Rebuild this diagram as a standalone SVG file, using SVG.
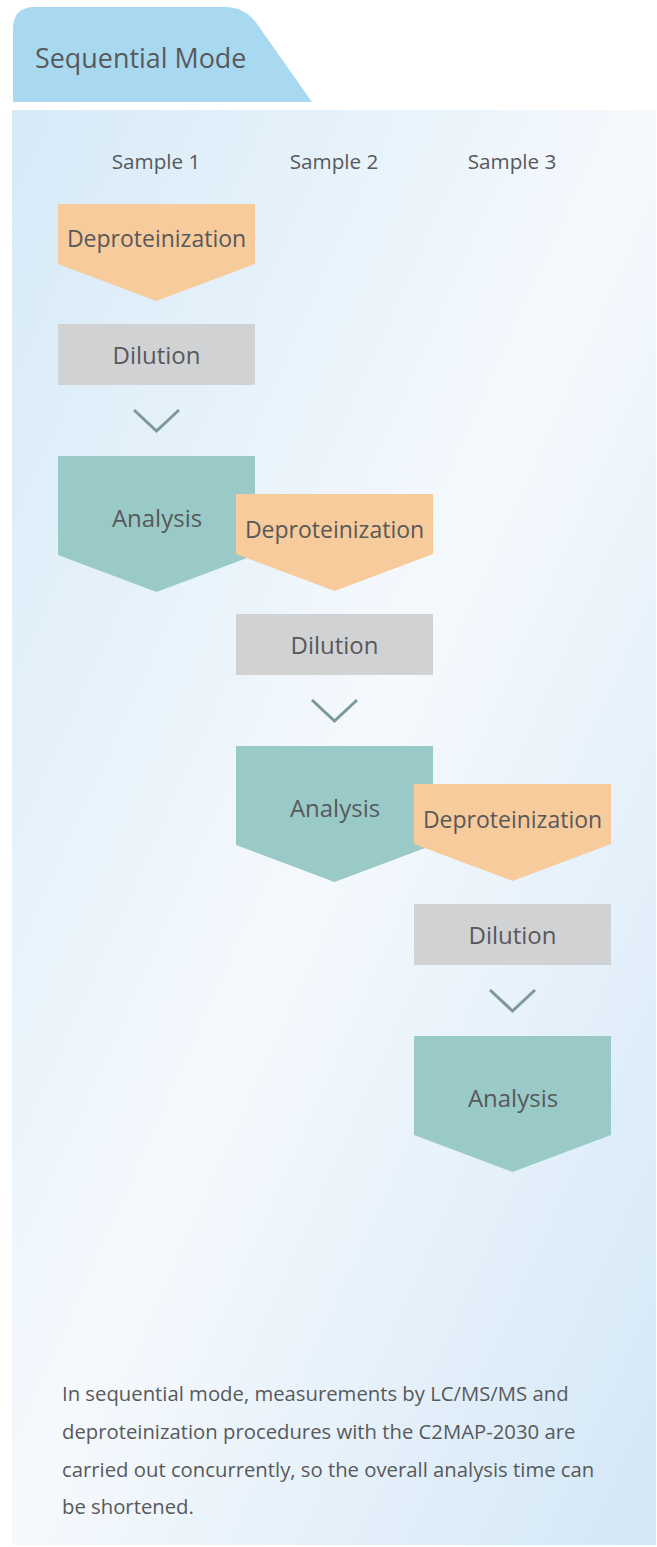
<svg xmlns="http://www.w3.org/2000/svg" width="657" height="1547" viewBox="0 0 657 1547">
  <style>
    .t { font-family: "Open Sans", "Liberation Sans", sans-serif; fill: #58595b; text-anchor: middle; }
    .box { font-size: 23px; }
    .box2 { font-size: 24px; }
    .sample { font-size: 20.7px; }
    .para { font-family: "Open Sans", "Liberation Sans", sans-serif; fill: #58595b; font-size: 20.3px; }
    .dep { fill: #f7cb9b; }
    .dil { fill: #d1d2d4; }
    .ana { fill: #99cac7; }
    .chev { fill: none; stroke: #7c979d; stroke-width: 3; }
  </style>
  <defs>
    <linearGradient id="bg" x1="0" y1="0" x2="1" y2="1">
      <stop offset="0" stop-color="#d6eaf8"/>
      <stop offset="0.5" stop-color="#f5f9fd"/>
      <stop offset="1" stop-color="#d3e7f7"/>
    </linearGradient>
  </defs>
  <rect width="657" height="1547" fill="#ffffff"/>
  <g id="tab">
    <path d="M13,102 V29 Q13,7 35,7 H225 Q245,7 256.5,23.3 L312,102 Z" fill="#a9d9f1"/>
    <text x="35" y="68" style="font-family:'Open Sans','Liberation Sans',sans-serif;font-size:26.9px;fill:#58595b">Sequential Mode</text>
  </g>
  <g id="panel">
    <rect x="12" y="110" width="644" height="1435" fill="url(#bg)"/>
  </g>
  <g id="samples">
    <text class="t sample" x="156" y="169">Sample 1</text>
    <text class="t sample" x="334" y="169">Sample 2</text>
    <text class="t sample" x="512" y="169">Sample 3</text>
  </g>
  <g id="connectors">
    <polyline class="chev" points="134,410 156.5,431 179,410"/>
    <polyline class="chev" points="312,700 334.5,721 357,700"/>
    <polyline class="chev" points="490,990 512.5,1011 535,990"/>
  </g>
  <!-- Sample 1 -->
  <g id="s1-deproteinization">
    <polygon class="dep" points="58,204 255,204 255,264 156.5,301 58,264"/>
    <text class="t box" x="156.5" y="247">Deproteinization</text>
  </g>
  <g id="s1-dilution">
    <rect class="dil" x="58" y="324" width="197" height="61"/>
    <text class="t box2" x="156.5" y="364">Dilution</text>
  </g>
  <g id="s1-analysis">
    <polygon class="ana" points="58,456 255,456 255,555 156.5,592 58,555"/>
    <text class="t box2" x="157" y="527">Analysis</text>
  </g>
  <!-- Sample 2 -->
  <g id="s2-deproteinization">
    <polygon class="dep" points="236,494 433,494 433,554 334.5,591 236,554"/>
    <text class="t box" x="334.5" y="538">Deproteinization</text>
  </g>
  <g id="s2-dilution">
    <rect class="dil" x="236" y="614" width="197" height="61"/>
    <text class="t box2" x="334.5" y="654">Dilution</text>
  </g>
  <g id="s2-analysis">
    <polygon class="ana" points="236,746 433,746 433,845 334.5,882 236,845"/>
    <text class="t box2" x="335" y="817">Analysis</text>
  </g>
  <!-- Sample 3 -->
  <g id="s3-deproteinization">
    <polygon class="dep" points="414,784 611,784 611,844 512.5,881 414,844"/>
    <text class="t box" x="512.5" y="828">Deproteinization</text>
  </g>
  <g id="s3-dilution">
    <rect class="dil" x="414" y="904" width="197" height="61"/>
    <text class="t box2" x="512.5" y="944">Dilution</text>
  </g>
  <g id="s3-analysis">
    <polygon class="ana" points="414,1036 611,1036 611,1135 512.5,1172 414,1135"/>
    <text class="t box2" x="513" y="1107">Analysis</text>
  </g>
  <g id="caption">
    <text class="para" x="62" y="1401">In sequential mode, measurements by LC/MS/MS and</text>
    <text class="para" x="62" y="1439">deproteinization procedures with the C2MAP-2030 are</text>
    <text class="para" x="62" y="1477">carried out concurrently, so the overall analysis time can</text>
    <text class="para" x="62" y="1514">be shortened.</text>
  </g>
</svg>
